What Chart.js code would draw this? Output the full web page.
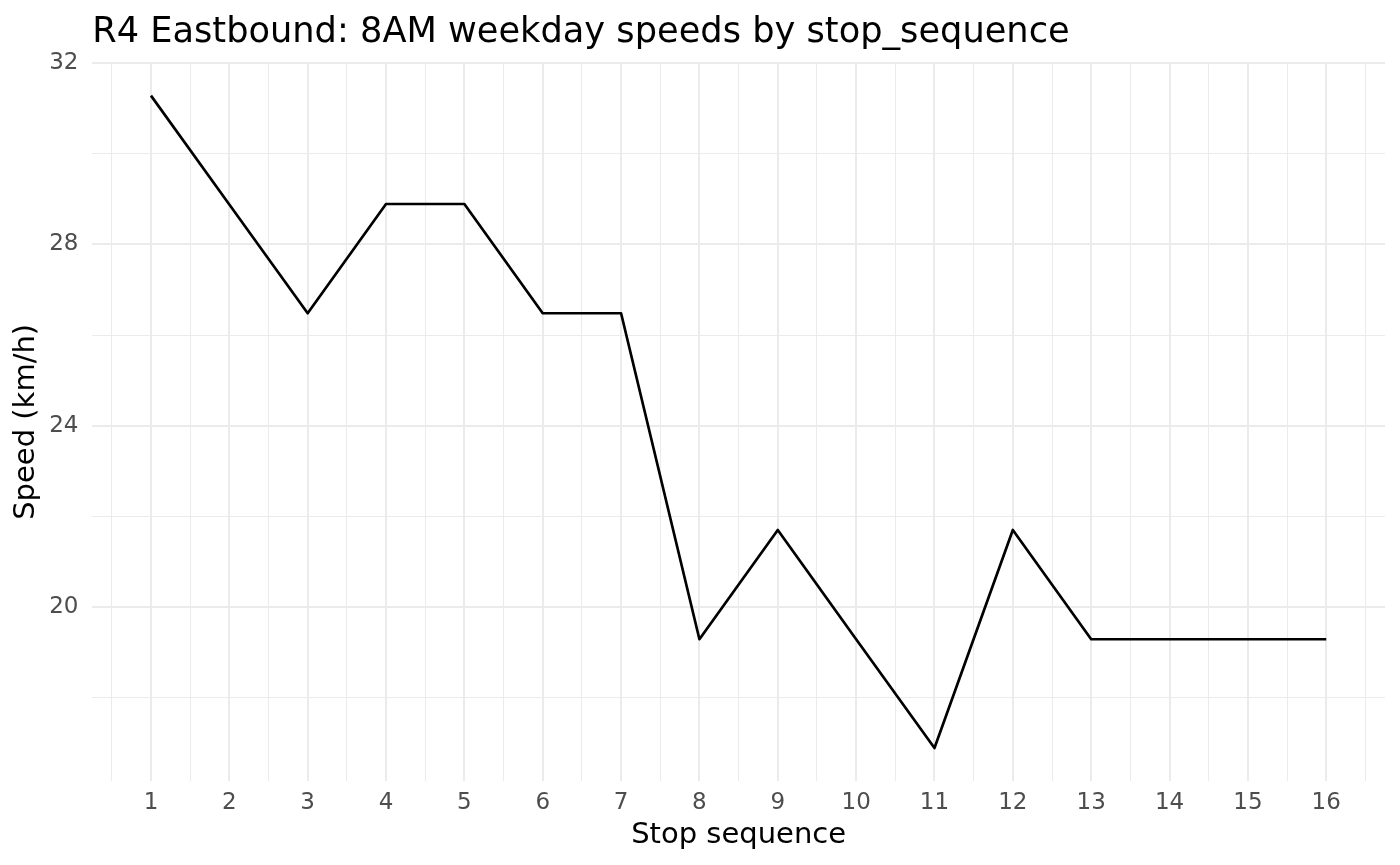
<!DOCTYPE html>
<html>
<head>
<meta charset="utf-8">
<script src="https://cdn.jsdelivr.net/npm/chart.js@4.4.1/dist/chart.umd.min.js"></script>
<style>
  html, body { margin: 0; padding: 0; background: #ffffff; }
  #wrap { width: 1400px; height: 865px; position: relative; }
</style>
</head>
<body>
<div id="wrap"><canvas id="c"></canvas></div>
<script>
// ---- data ----
const stopSequence = [1, 2, 3, 4, 5, 6, 7, 8, 9, 10, 11, 12, 13, 14, 15, 16];
const speedKmh = [31.28, 28.88, 26.48, 28.89, 28.89, 26.48, 26.48, 19.29, 21.70, 19.29, 16.89, 21.70, 19.29, 19.29, 19.29, 19.29];
const xMajorTicks = [1, 2, 3, 4, 5, 6, 7, 8, 9, 10, 11, 12, 13, 14, 15, 16];
const xMinorTicks = [0.5, 1.5, 2.5, 3.5, 4.5, 5.5, 6.5, 7.5, 8.5, 9.5, 10.5, 11.5, 12.5, 13.5, 14.5, 15.5, 16.5];
const yMajorTicks = [20, 24, 28, 32];
const yMinorTicks = [18, 22, 26, 30];
const chartTitle = 'R4 Eastbound: 8AM weekday speeds by stop_sequence';
const xTitle = 'Stop sequence';
const yTitle = 'Speed (km/h)';

const FONT = '"DejaVu Sans", sans-serif';
const points = stopSequence.map((s, i) => ({ x: s, y: speedKmh[i] }));
const xAll = xMajorTicks.concat(xMinorTicks).sort((a, b) => a - b);
const yAll = yMajorTicks.concat(yMinorTicks).sort((a, b) => a - b);

const titlePlugin = {
  id: 'ggTitle',
  afterDraw(chart) {
    const ctx = chart.ctx;
    ctx.save();
    ctx.font = '35.2px ' + FONT;
    ctx.fillStyle = '#000000';
    ctx.textAlign = 'left';
    ctx.textBaseline = 'alphabetic';
    ctx.fillText(chartTitle, chart.chartArea.left, 42);
    ctx.restore();
  }
};

new Chart(document.getElementById('c'), {
  type: 'line',
  data: {
    datasets: [{
      data: points,
      borderColor: '#000000',
      borderWidth: 2.7,
      pointRadius: 0,
      pointHoverRadius: 0,
      tension: 0,
      fill: false,
      borderJoinStyle: 'round'
    }]
  },
  options: {
    responsive: true,
    maintainAspectRatio: false,
    animation: false,
    devicePixelRatio: 1,
    layout: { padding: { top: 63, right: 15, bottom: 0, left: 0 } },
    plugins: {
      legend: { display: false },
      tooltip: { enabled: false },
      title: { display: false }
    },
    scales: {
      x: {
        type: 'linear',
        min: 0.25,
        max: 16.75,
        afterBuildTicks(scale) { scale.ticks = xAll.map(v => ({ value: v })); },
        afterFit(scale) { scale.height = 84.3; },
        border: { display: false },
        grid: {
          drawTicks: false,
          color: '#ebebeb',
          lineWidth: c => (Number.isInteger(c.tick.value) ? 2 : 1)
        },
        ticks: {
          autoSkip: false,
          maxRotation: 0,
          minRotation: 0,
          padding: 10.8,
          color: '#4d4d4d',
          font: { family: FONT, size: 23, lineHeight: 1 },
          callback: v => (xMajorTicks.includes(v) ? String(v) : '')
        },
        title: {
          display: true,
          text: xTitle,
          color: '#000000',
          font: { family: FONT, size: 29, lineHeight: 1 },
          padding: { top: 0, bottom: 15.5 }
        }
      },
      y: {
        type: 'linear',
        min: 16.17,
        max: 32,
        afterBuildTicks(scale) { scale.ticks = yAll.map(v => ({ value: v })); },
        afterFit(scale) { scale.width = 92.2; },
        border: { display: false },
        grid: {
          drawTicks: false,
          color: '#ebebeb',
          lineWidth: c => (yMajorTicks.includes(c.tick.value) ? 2 : 1)
        },
        ticks: {
          autoSkip: false,
          padding: 13.7,
          color: '#4d4d4d',
          font: { family: FONT, size: 23, lineHeight: 1 },
          callback: v => (yMajorTicks.includes(v) ? String(v) : '')
        },
        title: {
          display: true,
          text: yTitle,
          color: '#000000',
          font: { family: FONT, size: 29, lineHeight: 1 },
          padding: { top: 12.2, bottom: 0 }
        }
      }
    }
  },
  plugins: [titlePlugin]
});
</script>
</body>
</html>
